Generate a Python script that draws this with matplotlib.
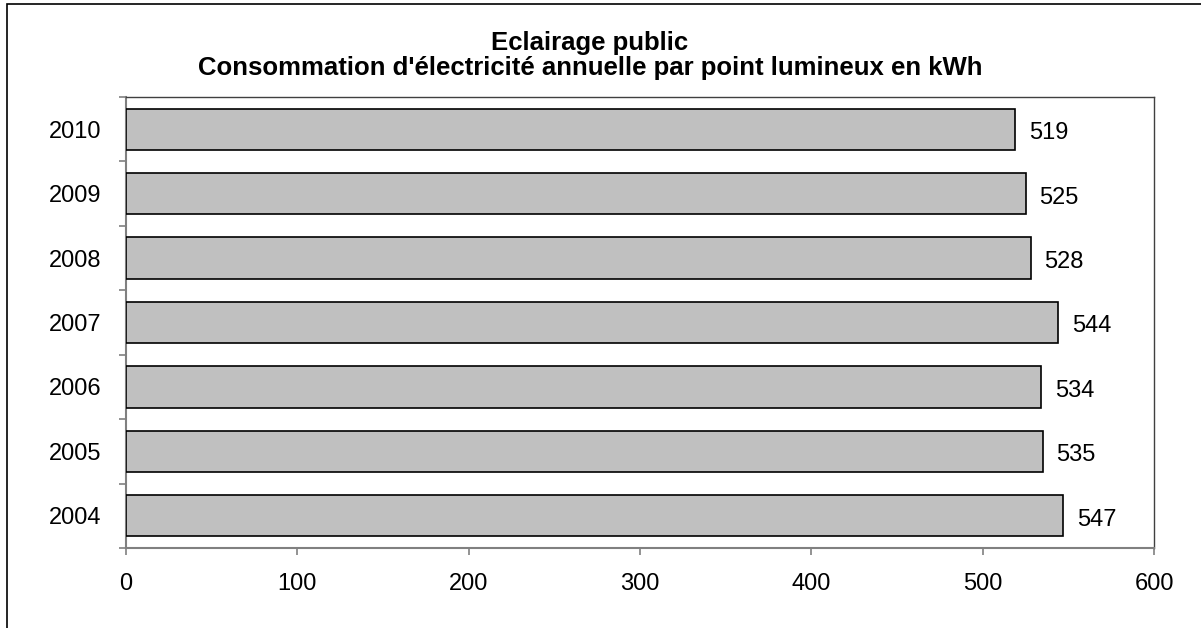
import matplotlib
matplotlib.use("Agg")
import matplotlib.pyplot as plt
from matplotlib.patches import Rectangle

years = ["2004", "2005", "2006", "2007", "2008", "2009", "2010"]
kwh = [547, 535, 534, 544, 528, 525, 519]

title_1 = "Eclairage public"
title_2 = "Consommation d'électricité annuelle par point lumineux en kWh"

plt.rcParams["font.family"] = ["Liberation Sans", "DejaVu Sans"]

W, H = 1201, 628
fig = plt.figure(figsize=(W / 100, H / 100), dpi=100)
ax = fig.add_axes([126 / W, 1 - 548 / H, (1154 - 126) / W, (548 - 97) / H])

pos = list(range(len(years)))
ax.barh(pos, kwh, height=0.64, color="#c0c0c0", edgecolor="black", linewidth=1.2, zorder=3)
for p, v in zip(pos, kwh):
    ax.annotate(str(v), (v, p), xytext=(10, -7.2), textcoords="offset points",
                va="baseline", ha="left", fontsize=17)

ax.set_xlim(0, 600)
ax.set_ylim(-0.5, len(years) - 0.5)
ax.set_xticks(range(0, 601, 100))
ax.set_yticks(pos)
ax.set_yticklabels(years)
ax.set_yticks([p - 0.5 for p in pos] + [len(years) - 0.5], minor=True)
ax.tick_params(axis="y", which="major", length=0, pad=18, labelsize=17)
ax.tick_params(axis="y", which="minor", length=5, width=1.2, color="#808080")
ax.tick_params(axis="x", length=5, width=1.2, color="#808080", pad=13, labelsize=17)
for lab in ax.get_yticklabels():
    lab.set_va("center_baseline")

for side in ["left", "bottom"]:
    ax.spines[side].set_color("#808080")
    ax.spines[side].set_linewidth(1.5)
for side in ["top", "right"]:
    ax.spines[side].set_color("#404040")
    ax.spines[side].set_linewidth(1.0)

fig.text(590 / W, 1 - 50 / H, title_1, ha="center", va="baseline", fontsize=18.5, fontweight="bold")
fig.text(590 / W, 1 - 75 / H, title_2, ha="center", va="baseline", fontsize=18.5, fontweight="bold")

# outer chart frame (cropped at right and bottom)
fig.patches.append(Rectangle((7 / W, -0.1), 1.2, 1 - 4 / H + 0.1, transform=fig.transFigure,
                             fill=False, edgecolor="black", linewidth=1.2))

fig.savefig("out.png", dpi=100)
